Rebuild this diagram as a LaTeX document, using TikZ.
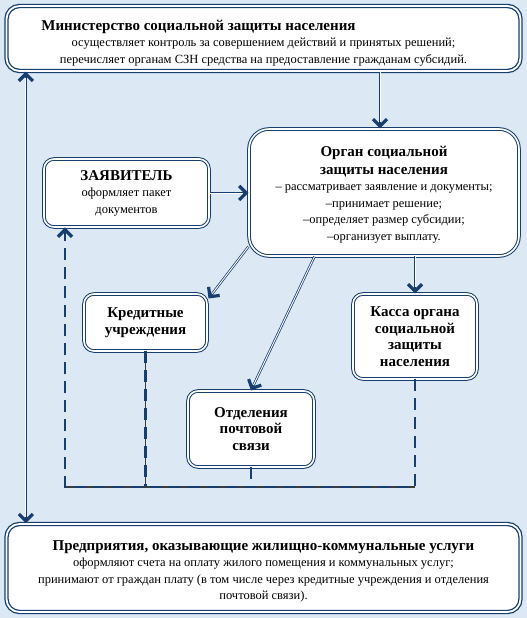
\documentclass[tikz,border=0pt]{standalone}
\usepackage{fontspec}
\setmainfont{Liberation Serif}
\usetikzlibrary{arrows.meta,calc,positioning}
\definecolor{sznnavy}{RGB}{24,62,112}
\definecolor{sznbg}{RGB}{220,233,245}
\definecolor{sznrule}{RGB}{60,60,60}
\newcommand{\ttl}[1]{{\fontsize{15}{18}\selectfont\bfseries #1}}

\begin{document}
\begin{tikzpicture}[x=1pt,y=1pt,>={Straight Barb[length=7pt,width=14pt,line width=3.2pt]},
  box/.style={draw=sznnavy,double=white,double distance=1.6pt,line width=1pt,fill=white,rounded corners=10pt,align=center,inner sep=2pt,font=\fontsize{12.5}{16.5}\selectfont},
  bigbox/.style={box,line width=1.3pt,double distance=1.8pt,rounded corners=13pt,minimum width=514pt},
  flow/.style={draw=sznnavy,line width=2.4pt,->,postaction={draw=white,line width=0.9pt,-,shorten >=6pt}},
  flowboth/.style={draw=sznnavy,line width=2.4pt,<->,postaction={draw=white,line width=0.9pt,-,shorten >=6pt,shorten <=6pt}},
  payline/.style={draw=sznnavy,line width=2.8pt,dash pattern=on 12pt off 7pt},
  thinrule/.style={draw=sznrule,line width=1.2pt}]
  \fill[sznbg] (0,0) rectangle (527,618);
  \node[bigbox,minimum height=65pt] (top) at (263.5,579.5) {\rule{0pt}{19pt}\ttl{Министерство социальной защиты населения}\hspace*{130pt}\\
    осуществляет контроль за совершением действий и принятых решений;\\
    перечисляет органам СЗН средства на предоставление гражданам субсидий.};
  \node[box,rounded corners=20pt,minimum width=270pt,minimum height=127pt] (organ) at (384,425.5) {\rule{0pt}{15pt}\ttl{Орган социальной}\\[1pt]
    \ttl{защиты населения}\\
    – рассматривает заявление и документы;\\
    –принимает решение;\\
    –определяет размер субсидии;\\
    –организует выплату.};
  \node[box,minimum width=165pt,minimum height=68pt] (zayav) at (126.5,425) {\ttl{ЗАЯВИТЕЛЬ}\\ оформляет пакет\\ документов};
  \node[box,minimum width=123pt,minimum height=57pt] (kred) at (145.5,295.5) {\ttl{Кредитные}\\[1pt] \ttl{учреждения}};
  \node[box,minimum width=124pt,minimum height=85pt] (kassa) at (415,281.5) {\ttl{Касса органа}\\ \ttl{социальной}\\ \ttl{защиты}\\ \ttl{населения}};
  \node[box,minimum width=126pt,minimum height=76pt] (otdel) at (251,189) {\ttl{Отделения}\\ \ttl{почтовой}\\ \ttl{связи}};
  \node[bigbox,minimum height=88pt] (bot) at (263.5,50) {\rule{0pt}{17pt}\ttl{Предприятия, оказывающие жилищно-коммунальные услуги}\\
    оформляют счета на оплату жилого помещения и коммунальных услуг;\\
    принимают от граждан плату (в том числе через кредитные учреждения и отделения\\
    почтовой связи).};
  \coordinate (dl) at (65,131);
  \coordinate (dr) at (kassa.south |- dl);
  \coordinate (zin) at (zayav.south -| dl);
  \draw[flow] ($(top.south -| organ.north)+(-4,0)$) -- ($(organ.north)+(-4,0)$);
  \draw[flow] (zayav.east) -- (zayav.east -| organ.west);
  \draw[flow] ($(organ.south west)+(0,10)$) -- ($(kred.north east)+(1,-5)$);
  \draw[flow] (organ.south -| otdel.east) -- (otdel.north);
  \draw[flow] (organ.south -| kassa.north) -- (kassa.north);
  \draw[flowboth] ($(top.south west)+(20,0)$) -- ($(bot.north west)+(20,0)$);
  \draw[thinrule] (kred.south) -- (kred.south |- dl);
  \draw[thinrule] (dl) -- (dr);
  \draw[payline] (kred.south) -- (kred.south |- dl);
  \draw[payline] (otdel.south) -- (otdel.south |- dl);
  \draw[payline,->] (kassa.south) -- (dr) -- (dl) -- (zin);
\end{tikzpicture}
\end{document}
